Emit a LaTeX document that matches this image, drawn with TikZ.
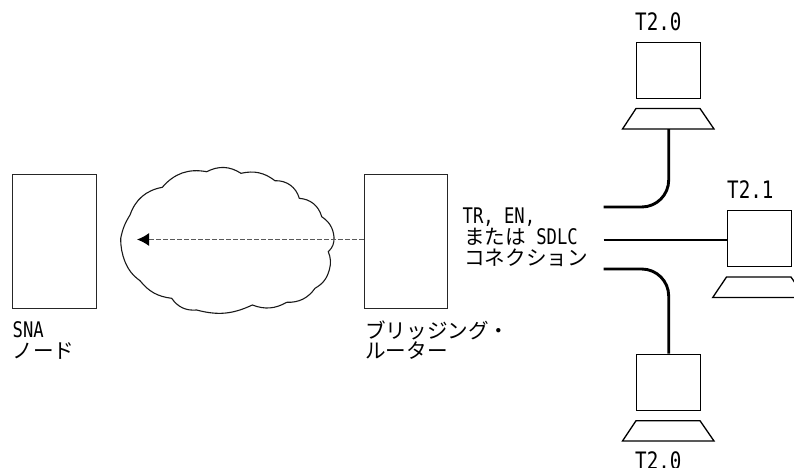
\documentclass[tikz,border=0pt]{standalone}
\usepackage{fontspec}
\usetikzlibrary{arrows.meta}
\newfontfamily\jpf{Noto Sans CJK JP}
\newfontfamily\latf[FakeStretch=.80]{DejaVu Sans Mono}
\newcommand{\jp}[1]{{\fontsize{20.6pt}{20.7pt}\jpf #1}}
\newcommand{\la}[1]{{\fontsize{21.5pt}{20.7pt}\latf #1}}
\newcommand{\lb}[1]{{\fontsize{24pt}{24pt}\latf #1}}
\tikzset{
  x=1pt,y=-1pt,
  boxnode/.style={draw=black!85,line width=1.3pt,fill=white,minimum width=83.5pt,minimum height=134pt,inner sep=0pt,anchor=north west},
  screen/.style={draw=black,line width=1.4pt,fill=white,minimum width=64pt,minimum height=56pt,inner sep=0pt,anchor=north west},
  kbd/.style={draw=black,line width=1.3pt,line join=miter},
  conn/.style={draw=black,line width=2.9pt,rounded corners=27pt},
  lbl/.style={anchor=base west,inner sep=0pt,align=left,text=black},
  flow/.style={draw=black!65,line width=1.4pt,dash pattern=on 5pt off 2pt,-{Latex[length=12pt,width=13pt,black]}},
  cloudline/.style={draw=black!90,line width=1.1pt,fill=white}
}
\begin{document}
\begin{tikzpicture}
\useasboundingbox (0,0) rectangle (794,467);
\clip (0,0) rectangle (794,467);
\node[boxnode] (sna) at (12,173.5) {};
\node[boxnode] (router) at (363.5,173.5) {};
\draw[cloudline] (162.3,187.3) to[bend left=30] (206.7,171.7) to[bend left=30] (241,173.3)
  to[bend left=25] (275,180.7) to[bend left=38] (299.3,198.3) to[bend left=35] (321.7,216.7)
  to[bend left=25] (334,237) to[bend left=25] (328.3,251.7) to[bend left=18] (329.3,270)
  to[bend left=22] (315,288.3) to[bend left=28] (286.7,302.3) to[bend left=25] (252.3,305)
  to[bend left=20] (196.7,310) to[bend left=30] (171.7,298.3) to[bend left=22] (140,280.7)
  to[bend left=15] (125,261.7) to[bend left=10] (120.7,238.3) to[bend left=10] (130,215)
  to[bend left=30] cycle;
\coordinate (tip) at (137,239.5);
\draw[flow] (router.west |- tip) -- (tip);
% top terminal
\node[screen] (scrA) at (636,41.5) {};
\draw[kbd] (636,108.5) -- (700,108.5) -- (714,129) -- (622.5,129) -- cycle;
\coordinate (kbA) at (668.7,129);
\coordinate (cornerA) at (668.7,207);
\coordinate (endA) at (603.5,207);
\draw[conn] (kbA) -- (cornerA) -- (endA);
% middle terminal
\node[screen] (scrB) at (726.5,210) {};
\draw[kbd] (726.5,277) -- (791,277) -- (805,297.5) -- (712.7,297.5) -- cycle;
\coordinate (endB) at (603.5,240);
\draw[conn] (endB) -- (scrB.west |- endB);
% bottom terminal
\node[screen] (scrC) at (636,353.5) {};
\draw[kbd] (636,420.7) -- (700,420.7) -- (714,441) -- (622.5,441) -- cycle;
\coordinate (endC) at (603.5,269);
\coordinate (cornerC) at (668.7,269);
\draw[conn] (endC) -- (cornerC) -- (scrC.north -| cornerC);
% labels
\node[lbl] (t20a) at (635,30) {\lb{T2.0}};
\node[lbl] (t21) at (727,198) {\lb{T2.1}};
\node[lbl] (t20b) at (635,469.5) {\lb{T2.0}};
\node[lbl] (snaL1) at (12.5,337) {\la{SNA}};
\node[lbl] (snaL2) at (12.5,358) {\jp{ノード}};
\node[lbl] (rtL1) at (365,338) {\jp{ブリッジング・}};
\node[lbl] (rtL2) at (365,358) {\jp{ルーター}};
\node[lbl] (c1) at (462.5,223.5) {\la{TR, EN,}};
\node[lbl] (c2) at (464,244) {\jp{または}\la{ SDLC}};
\node[lbl] (c3) at (464,265) {\jp{コネクション}};
\end{tikzpicture}
\end{document}
